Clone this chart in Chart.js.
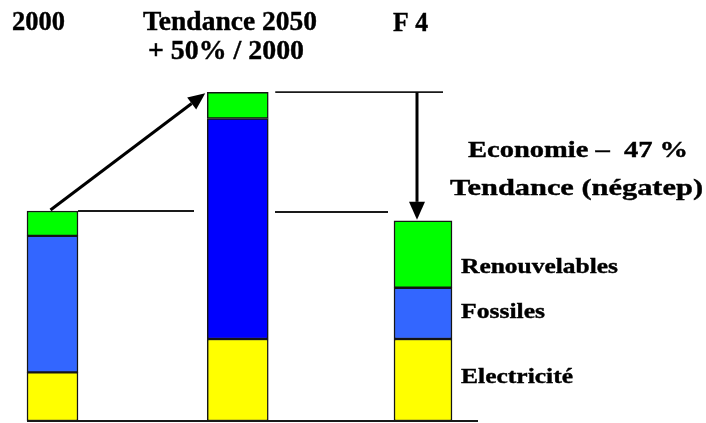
<!DOCTYPE html>
<html>
<head>
<meta charset="utf-8">
<script src="https://cdn.jsdelivr.net/npm/chart.js@4/dist/chart.umd.min.js"></script>
<style>
  html, body { margin: 0; padding: 0; background: #fff; }
  canvas { display: block; }
</style>
</head>
<body>
<canvas id="energieChart" width="706" height="423"></canvas>
<script>
// Consommation d'énergie finale (Mtep) par scénario
const categories = ['2000', 'Tendance 2050', 'F 4'];
const electricite = [37, 62.5, 62.5];
const fossiles = [104, 168, 39];
const renouvelables = [19, 20, 51];
const seriesLabels = ['Electricité', 'Fossiles', 'Renouvelables'];

// Couleurs et largeurs des colonnes
const couleurs = [
  ['#FFFF00', '#FFFF00', '#FFFF00'],
  ['#3366FF', '#0000FF', '#3366FF'],
  ['#00FF00', '#00FF00', '#00FF00']
];
const largeurs = [51, 61, 58];

const series = [electricite, fossiles, renouvelables];
const totaux = categories.map((_, i) => series.reduce((s, v) => s + v[i], 0));

// Un dataset par segment pour pouvoir donner une largeur à chaque colonne
const datasets = [];
categories.forEach((cat, i) => {
  series.forEach((valeurs, k) => {
    datasets.push({
      label: seriesLabels[k],
      data: categories.map((_, j) => (j === i ? valeurs[i] : null)),
      backgroundColor: couleurs[k][i],
      borderColor: '#151515',
      borderWidth: 1.5,
      borderSkipped: false,
      barThickness: largeurs[i],
      grouped: false,
      stack: 'total',
      clip: false
    });
  });
});

const FONT = '"Liberation Serif", "Times New Roman", serif';

// Texte gras étiré horizontalement à une largeur donnée
function texte(ctx, str, x, y, size, largeur) {
  ctx.save();
  ctx.font = 'bold ' + size + 'px ' + FONT;
  ctx.fillStyle = '#000';
  ctx.strokeStyle = '#000';
  ctx.lineWidth = 0.4;
  ctx.textBaseline = 'alphabetic';
  const w = ctx.measureText(str).width;
  ctx.translate(x, y);
  ctx.scale(largeur ? largeur / w : 1, 1);
  ctx.fillText(str, 0, 0);
  ctx.strokeText(str, 0, 0);
  ctx.restore();
}

function fleche(ctx, x1, y1, x2, y2, epaisseur, longueur, demiLargeur) {
  const a = Math.atan2(y2 - y1, x2 - x1);
  const bx = x2 - Math.cos(a) * longueur;
  const by = y2 - Math.sin(a) * longueur;
  ctx.save();
  ctx.strokeStyle = '#000';
  ctx.fillStyle = '#000';
  ctx.lineWidth = epaisseur;
  ctx.beginPath();
  ctx.moveTo(x1, y1);
  ctx.lineTo(bx, by);
  ctx.stroke();
  ctx.beginPath();
  ctx.moveTo(x2, y2);
  ctx.lineTo(bx + Math.sin(a) * demiLargeur, by - Math.cos(a) * demiLargeur);
  ctx.lineTo(bx - Math.sin(a) * demiLargeur, by + Math.cos(a) * demiLargeur);
  ctx.closePath();
  ctx.fill();
  ctx.restore();
}

function trait(ctx, x1, y1, x2, y2) {
  ctx.save();
  ctx.strokeStyle = '#1a1a1a';
  ctx.lineWidth = 1.8;
  ctx.beginPath();
  ctx.moveTo(x1, y1);
  ctx.lineTo(x2, y2);
  ctx.stroke();
  ctx.restore();
}

const annotations = {
  id: 'annotations',
  afterDraw(chart) {
    const ctx = chart.ctx;
    const x = chart.scales.x;
    const y = chart.scales.y;
    const cx = categories.map((_, i) => x.getPixelForValue(i));
    const haut = totaux.map(t => y.getPixelForValue(t));
    const base = y.getPixelForValue(0);

    // ligne de base
    trait(ctx, cx[0] - largeurs[0] / 2, base, 478, base);

    // niveaux 2000 et tendance 2050
    trait(ctx, cx[0] + largeurs[0] / 2, haut[0], 194, haut[0]);
    trait(ctx, 275, haut[0] + 1, cx[2] - largeurs[2] / 2 - 6, haut[0] + 1);
    trait(ctx, cx[1] + largeurs[1] / 2 + 7, haut[1], 443, haut[1]);

    // flèches
    fleche(ctx, cx[0] - 2, haut[0] - 1, cx[1] - largeurs[1] / 2 - 2, haut[1] + 1, 3, 17, 7.5);
    fleche(ctx, 417, haut[1], 417, haut[2] - 1, 3, 18, 8);

    // titres des colonnes
    texte(ctx, categories[0], 12, 30, 27, 53);
    texte(ctx, categories[1], 143, 30, 27, 174);
    texte(ctx, '+ 50% / 2000', 148, 59, 27, 156);
    texte(ctx, categories[2], 393, 31, 27, 35);

    texte(ctx, 'Economie \u2013  47 %', 468, 157, 24, 220);
    texte(ctx, 'Tendance (négatep)', 450, 195, 24, 253);

    // légende à droite de la colonne F 4
    texte(ctx, seriesLabels[2], 461, 273, 22, 157);
    texte(ctx, seriesLabels[1], 461, 318, 22, 84);
    texte(ctx, seriesLabels[0], 461, 383, 22, 112);
  }
};

new Chart(document.getElementById('energieChart'), {
  type: 'bar',
  data: { labels: categories, datasets },
  options: {
    responsive: false,
    animation: false,
    layout: { padding: { left: 52.5, right: 283, top: 1, bottom: 2 } },
    scales: {
      x: { display: false, offset: false, grid: { display: false } },
      y: { display: false, stacked: true, min: 0, max: 320, grid: { display: false } }
    },
    plugins: {
      legend: { display: false },
      tooltip: { enabled: false }
    }
  },
  plugins: [annotations]
});
</script>
</body>
</html>
